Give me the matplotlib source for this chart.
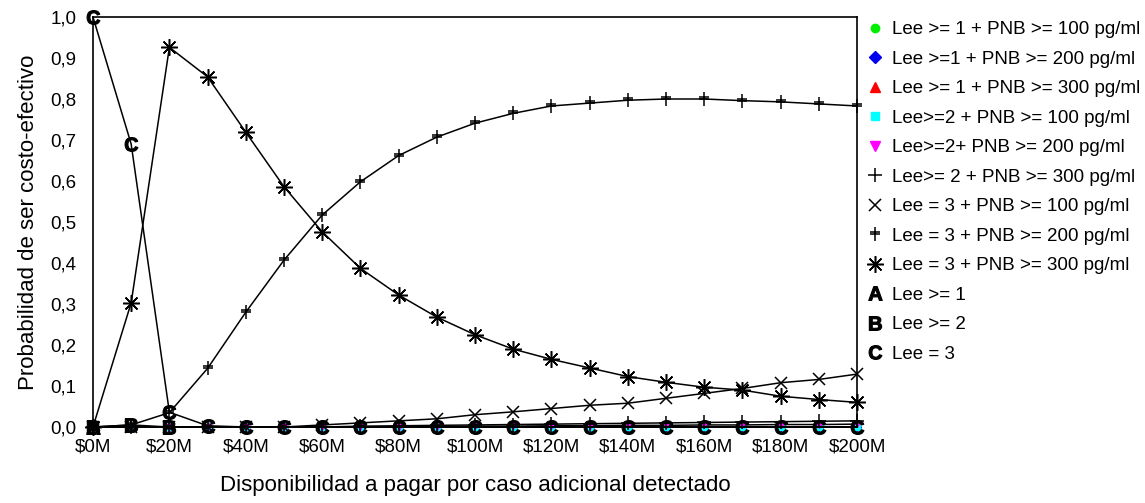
import matplotlib
matplotlib.use("Agg")
import matplotlib.pyplot as plt
from matplotlib.lines import Line2D
from matplotlib.path import Path
import numpy as np

plt.rcParams['font.family'] = ['Liberation Sans', 'DejaVu Sans']
plt.rcParams['mathtext.fontset'] = 'custom'
plt.rcParams['mathtext.bf'] = 'Liberation Sans:bold'
plt.rcParams['mathtext.rm'] = 'Liberation Sans'

# disponibilidad a pagar (millones)
wtp = [0, 10, 20, 30, 40, 50, 60, 70, 80, 90, 100,
       110, 120, 130, 140, 150, 160, 170, 180, 190, 200]

lee1_pnb100 = [0.0] * 21
lee1_pnb200 = [0.0] * 21
lee1_pnb300 = [0.0] * 21
lee2_pnb100 = [0.0] * 21
lee2_pnb200 = [0.0, 0.0, 0.0, 0.0, 0.0, 0.0, 0.0, 0.0, 0.0, 0.0, 0.002,
               0.002, 0.003, 0.003, 0.004, 0.004, 0.005, 0.005, 0.006, 0.006, 0.007]
lee2_pnb300 = [0.0, 0.0, 0.0, 0.0, 0.0, 0.0, 0.0, 0.002, 0.003, 0.004, 0.005,
               0.006, 0.007, 0.008, 0.009, 0.010, 0.011, 0.012, 0.013, 0.014, 0.015]
lee3_pnb100 = [0.0, 0.0, 0.0, 0.0, 0.0, 0.0, 0.005, 0.010, 0.015, 0.020, 0.030,
               0.037, 0.045, 0.053, 0.058, 0.070, 0.082, 0.094, 0.108, 0.116, 0.129]
lee3_pnb200 = [0.0, 0.005, 0.035, 0.143, 0.280, 0.407, 0.517, 0.598, 0.662, 0.707, 0.741,
               0.765, 0.783, 0.790, 0.797, 0.800, 0.800, 0.796, 0.793, 0.788, 0.783]
lee3_pnb300 = [0.0, 0.303, 0.926, 0.854, 0.719, 0.586, 0.476, 0.387, 0.322, 0.268, 0.225,
               0.190, 0.165, 0.144, 0.123, 0.109, 0.097, 0.090, 0.075, 0.067, 0.060]
lee_ge1 = [0.0] * 21
lee_ge2 = [0.0, 0.005, 0.0, 0.0, 0.0, 0.0, 0.0, 0.0, 0.0, 0.0, 0.0,
           0.0, 0.0, 0.0, 0.0, 0.0, 0.0, 0.0, 0.0, 0.0, 0.0]
lee_eq3 = [1.0, 0.69, 0.036, 0.003, 0.0, 0.0, 0.0, 0.0, 0.0, 0.0, 0.0,
           0.0, 0.0, 0.0, 0.0, 0.0, 0.0, 0.0, 0.0, 0.0, 0.0]

labels = ["Lee >= 1 + PNB >= 100 pg/ml", "Lee >=1 + PNB >= 200 pg/ml",
          "Lee >= 1 + PNB >= 300 pg/ml", "Lee>=2 + PNB >= 100 pg/ml",
          "Lee>=2+ PNB >= 200 pg/ml", "Lee>= 2 + PNB >= 300 pg/ml",
          "Lee = 3 + PNB >= 100 pg/ml", "Lee = 3 + PNB >= 200 pg/ml",
          "Lee = 3 + PNB >= 300 pg/ml", "Lee >= 1", "Lee >= 2", "Lee = 3"]

# marcador tipo "+" con doble barra
dcross = Path([(0, -1), (0, 1), (-0.75, 0.35), (0.75, 0.35), (-0.75, -0.05), (0.75, -0.05)],
              [Path.MOVETO, Path.LINETO, Path.MOVETO, Path.LINETO, Path.MOVETO, Path.LINETO])

styles = [
    dict(marker='o', color='#00ee00', ms=6),
    dict(marker='D', color='#0000ee', ms=6),
    dict(marker='^', color='#ff0000', ms=7),
    dict(marker='s', color='#00ffff', ms=6),
    dict(marker='v', color='#ff00ff', ms=7),
    dict(marker='+', color='black', ms=10, mew=1.1),
    dict(marker='x', color='black', ms=9, mew=1.1),
    dict(marker=dcross, color='black', ms=10, mew=1.1),
    dict(marker=(8, 2, 0), color='black', ms=12, mew=1.1),
    dict(marker=r'$\mathbf{A}$', color='black', ms=10, mew=0.8, every=[0]),
    dict(marker=r'$\mathbf{B}$', color='black', ms=10, mew=0.8, every=[0, 1, 2]),
    dict(marker=r'$\mathbf{C}$', color='black', ms=10, mew=0.8),
]
series = [lee1_pnb100, lee1_pnb200, lee1_pnb300, lee2_pnb100, lee2_pnb200,
          lee2_pnb300, lee3_pnb100, lee3_pnb200, lee3_pnb300,
          lee_ge1, lee_ge2, lee_eq3]
# orden de dibujo: colores, A, B, C, luego los negros
order = [0, 1, 2, 3, 4, 9, 10, 11, 5, 6, 7, 8]

fig = plt.figure(figsize=(11.45, 5.03), dpi=100)
ax = fig.add_axes([0.0812, 0.1511, 0.6673, 0.8151])

for z, i in enumerate(order):
    st = styles[i]
    ms = st['ms'] if i >= 5 else st['ms'] - 2
    ax.plot(wtp, series[i], color='black', lw=1.1, marker=st['marker'], ms=ms,
            mec=st['color'], mfc=st['color'], mew=st.get('mew', 1.0),
            markevery=st.get('every'), zorder=2 + z * 0.1, clip_on=False)

handles = [Line2D([], [], linestyle='none', marker=st['marker'], ms=st['ms'],
                  mec=st['color'], mfc=st['color'], mew=st.get('mew', 1.0))
           for st in styles]

ax.set_xlim(0, 200)
ax.set_ylim(0, 1.0)
ax.set_xticks(range(0, 201, 20))
ax.set_xticklabels(["$%dM" % v for v in range(0, 201, 20)])
yt = np.arange(0, 1.01, 0.1)
ax.set_yticks(yt)
ax.set_yticklabels([("%.1f" % v).replace('.', ',') for v in yt])
ax.tick_params(axis='both', length=0, labelsize=13.5)
ax.tick_params(axis='y', pad=12)
ax.tick_params(axis='x', pad=8)
for s in ax.spines.values():
    s.set_linewidth(1.2)

ax.set_xlabel("Disponibilidad a pagar por caso adicional detectado", fontsize=16, labelpad=14)
ax.set_ylabel("Probabilidad de ser costo-efectivo", fontsize=16, labelpad=8)

fig.legend(handles, labels, loc='upper left', bbox_to_anchor=(0.757, 0.958),
           frameon=False, fontsize=13.5, handlelength=0.9, handletextpad=0.45,
           labelspacing=0.66, borderpad=0, borderaxespad=0)

fig.savefig("out.png", dpi=100)
